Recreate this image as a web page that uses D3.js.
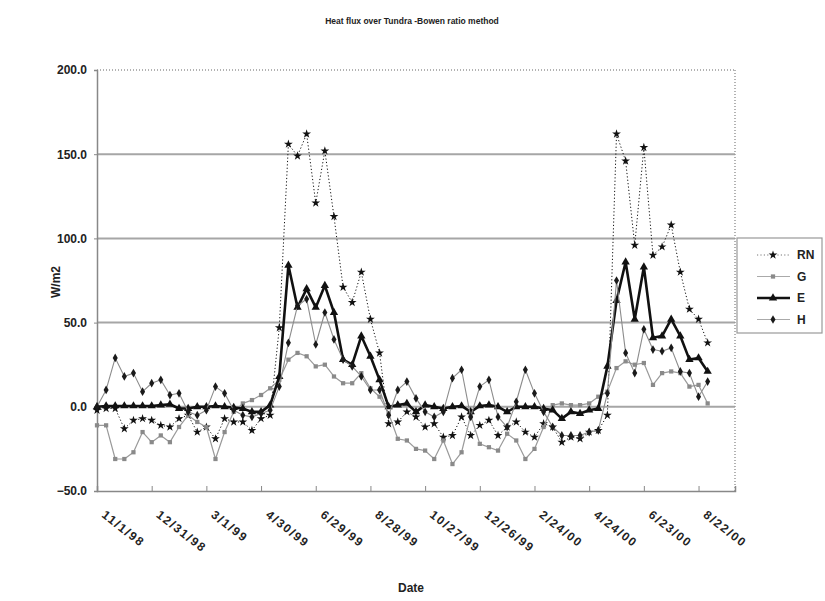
<!DOCTYPE html>
<html>
<head>
<meta charset="utf-8">
<script src="https://cdn.jsdelivr.net/npm/d3@7"></script>
<style>
  body { margin: 0; background: #fff; }
  svg { display: block; }
  text { font-family: "Liberation Sans", Arial, sans-serif; fill: #222; }
</style>
</head>
<body>
<svg id="chart" width="825" height="601"></svg>
<script>
// 10-day periods on the category axis (the last three carry no data yet)
const categories = [
  "11/1/98","11/11/98","11/21/98","12/1/98","12/11/98","12/21/98",
  "12/31/98","1/10/99","1/20/99","1/30/99","2/9/99","2/19/99",
  "3/1/99","3/11/99","3/21/99","3/31/99","4/10/99","4/20/99",
  "4/30/99","5/10/99","5/20/99","5/30/99","6/9/99","6/19/99",
  "6/29/99","7/9/99","7/19/99","7/29/99","8/8/99","8/18/99",
  "8/28/99","9/7/99","9/17/99","9/27/99","10/7/99","10/17/99",
  "10/27/99","11/6/99","11/16/99","11/26/99","12/6/99","12/16/99",
  "12/26/99","1/5/00","1/15/00","1/25/00","2/4/00","2/14/00",
  "2/24/00","3/5/00","3/15/00","3/25/00","4/4/00","4/14/00",
  "4/24/00","5/4/00","5/14/00","5/24/00","6/3/00","6/13/00",
  "6/23/00","7/3/00","7/13/00","7/23/00","8/2/00","8/12/00",
  "8/22/00","9/1/00","9/11/00","9/21/00","10/1/00"
];

const tickLabels = ["11/1/98","12/31/98","3/1/99","4/30/99","6/29/99","8/28/99",
                    "10/27/99","12/26/99","2/24/00","4/24/00","6/23/00","8/22/00"];
const yTicks = [-50, 0, 50, 100, 150, 200];

// Net radiation
const RN = [-2,-1,-1,-13,-8,-7,-8,-11,-12,-7,-5,-15,-12,-19,-7,-9,-9,-14,-7,-5,
  47,156,149,162,121,152,113,71,62,80,52,32,-10,-9,-3,-6,-12,-10,-18,-17,
  -6,-17,-11,-8,-17,-12,-9,-15,-18,-10,-12,-21,-18,-19,-15,-14,-5,162,146,96,
  154,90,95,108,80,58,52,38];
// Ground heat flux
const G = [-11,-11,-31,-31,-27,-15,-21,-17,-21,-12,-5,-9,-12,-31,-15,-3,2,4,7,11,
  16,28,32,30,24,25,18,14,14,20,11,6,-4,-19,-20,-25,-26,-31,-20,-34,
  -27,-5,-22,-24,-26,-16,-20,-31,-25,-12,1,2,1,1,2,6,9,23,27,25,
  26,13,20,21,20,12,13,2];
// Latent heat flux
const E = [0,0.5,0.5,0.5,0.5,0.5,0.5,1,1.5,-1,-1,0,0,0.5,0,-0.5,-1,-3,-3,1,
  18,84,59,70,59,72,56,28,25,42,30,16,0,1,2,-3,1,0,-1,0,
  0.5,-3,0.5,1,0,-3,0,0,0,-1,-2,-7,-3,-4,-2,-1,24,63,86,52,
  83,41,42,52,42,28,29,21];
// Sensible heat flux
const H = [0,10,29,18,20,9,14,16,7,8,-3,-5,-2,12,8,-2,-5,-6,-4,-2,
  12,38,60,64,37,56,40,28,24,18,10,10,-5,10,15,5,-3,-6,-3,17,
  22,-6,12,16,-6,-12,3,22,8,-3,-12,-17,-17,-17,-15,-14,8,75,32,20,
  46,34,33,35,21,20,6,15];

const series = [
  { name: "RN", values: RN, stroke: "#111", width: 1, dash: "1.2,2.2", symbol: d3.symbolStar,    size: 24, fill: "#111" },
  { name: "G",  values: G,  stroke: "#9a9a9a", width: 1.2, dash: null, symbol: d3.symbolSquare,  size: 18, fill: "#8a8a8a" },
  { name: "E",  values: E,  stroke: "#111", width: 2.6, dash: null, symbol: d3.symbolTriangle,  size: 30, fill: "#111" },
  { name: "H",  values: H,  stroke: "#8c8c8c", width: 1.1, dash: null, symbol: d3.symbolDiamond, size: 22, fill: "#1a1a1a" }
];

const plot = { left: 97, right: 735, top: 70, bottom: 491 };
const svg = d3.select("#chart");

const x = d3.scalePoint().domain(categories).range([plot.left, plot.right]);
const y = d3.scaleLinear().domain([-50, 200]).range([plot.bottom, plot.top]);

// Title
svg.append("text")
  .attr("x", 412).attr("y", 24)
  .attr("text-anchor", "middle")
  .style("font-size", "8.5px").style("font-weight", "bold")
  .text("Heat flux over Tundra -Bowen ratio method");

// Horizontal gridlines
svg.append("g").selectAll("line")
  .data(yTicks.filter(v => v > -50 && v < 200))
  .join("line")
  .attr("x1", plot.left).attr("x2", plot.right)
  .attr("y1", d => y(d)).attr("y2", d => y(d))
  .attr("stroke", "#a6a6a6").attr("stroke-width", 2);

// Dotted frame on top and right
svg.append("line")
  .attr("x1", plot.left).attr("x2", plot.right)
  .attr("y1", y(200)).attr("y2", y(200))
  .attr("stroke", "#999").attr("stroke-width", 1.5).attr("stroke-dasharray", "1,2");
svg.append("line")
  .attr("x1", plot.right).attr("x2", plot.right)
  .attr("y1", y(200)).attr("y2", y(-50))
  .attr("stroke", "#999").attr("stroke-width", 1.5).attr("stroke-dasharray", "1,2");

// Y axis
const yAxis = svg.append("g")
  .attr("transform", `translate(${plot.left},0)`)
  .call(d3.axisLeft(y).tickValues(yTicks).tickFormat(d3.format(".1f")).tickSize(3).tickPadding(7));
yAxis.select(".domain").attr("stroke", "#888").attr("stroke-width", 1.5);
yAxis.selectAll(".tick line").attr("stroke", "#888");
yAxis.selectAll(".tick text")
  .style("font-size", "12px").style("font-weight", "bold").attr("fill", "#222");

// X axis
const xAxis = svg.append("g")
  .attr("transform", `translate(0,${plot.bottom})`)
  .call(d3.axisBottom(x)
    .tickValues(categories.filter((d, i) => i % 6 === 0 || i === categories.length - 1))
    .tickSize(-5)
    .tickFormat(d => tickLabels.includes(d) ? d : ""));
xAxis.select(".domain").attr("stroke", "#888").attr("stroke-width", 1.5);
xAxis.selectAll(".tick line").attr("stroke", "#888");
xAxis.selectAll(".tick text")
  .attr("text-anchor", "start")
  .attr("transform", "translate(6,22) rotate(38)")
  .attr("y", 0).attr("dy", "0.35em")
  .style("font-size", "12px").style("font-weight", "bold").style("letter-spacing", "1.6px")
  .attr("fill", "#222");

// Axis titles
svg.append("text")
  .attr("transform", "translate(60,282) rotate(-90)")
  .attr("text-anchor", "middle")
  .style("font-size", "12px").style("font-weight", "bold")
  .text("W/m2");
svg.append("text")
  .attr("x", 411).attr("y", 592)
  .attr("text-anchor", "middle")
  .style("font-size", "12px").style("font-weight", "bold")
  .text("Date");

// Series lines and markers
const line = d3.line()
  .defined(d => d.v != null)
  .x(d => x(d.c)).y(d => y(d.v));

const layer = svg.append("g");
series.forEach(s => {
  const pts = s.values.map((v, i) => ({ c: categories[i], v }));
  layer.append("path")
    .datum(pts)
    .attr("fill", "none")
    .attr("stroke", s.stroke)
    .attr("stroke-width", s.width)
    .attr("stroke-linejoin", "round")
    .attr("stroke-dasharray", s.dash)
    .attr("d", line);
  layer.append("g").selectAll("path")
    .data(pts)
    .join("path")
    .attr("transform", d => `translate(${x(d.c)},${y(d.v)})`)
    .attr("d", d3.symbol().type(s.symbol).size(s.size))
    .attr("fill", s.fill);
});

// Legend
const lg = svg.append("g").attr("transform", "translate(737,238)");
lg.append("rect")
  .attr("x", 0).attr("y", 0).attr("width", 85).attr("height", 95)
  .attr("fill", "#fff").attr("stroke", "#999").attr("stroke-width", 1.2);
series.forEach((s, i) => {
  const cy = 17 + i * 21.5;
  lg.append("line")
    .attr("x1", 20).attr("x2", 53).attr("y1", cy).attr("y2", cy)
    .attr("stroke", s.name === "RN" ? "#777" : (s.name === "E" ? "#111" : "#aaa"))
    .attr("stroke-width", s.width)
    .attr("stroke-dasharray", s.dash);
  lg.append("path")
    .attr("transform", `translate(36,${cy})`)
    .attr("d", d3.symbol().type(s.symbol).size(s.size))
    .attr("fill", s.fill);
  lg.append("text")
    .attr("x", 60).attr("y", cy).attr("dy", "0.36em")
    .style("font-size", "12px").style("font-weight", "bold")
    .text(s.name);
});
</script>
</body>
</html>
